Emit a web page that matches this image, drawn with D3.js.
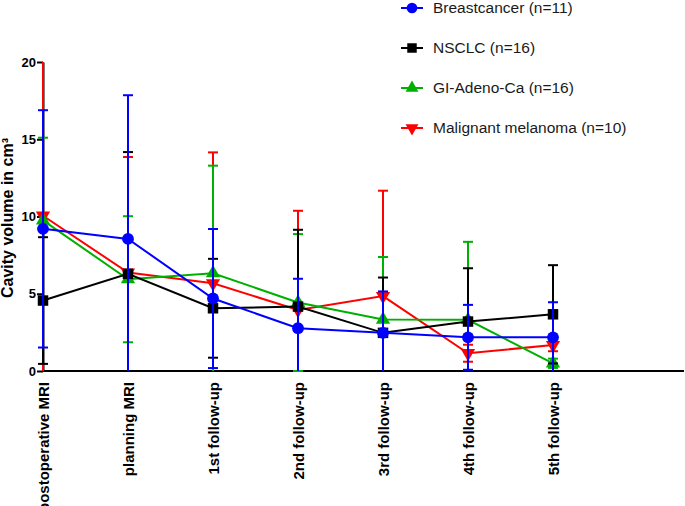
<!DOCTYPE html>
<html><head><meta charset="utf-8">
<script src="https://cdn.jsdelivr.net/npm/d3@7"></script>
<style>
html,body{margin:0;padding:0;background:#fff;}
svg{display:block;font-family:Arial,"Liberation Sans",sans-serif;}
</style></head>
<body>
<svg id="chart" width="685" height="506"></svg>
<script>
const categories = ["postoperative MRI","planning MRI","1st follow-up","2nd follow-up","3rd follow-up","4th follow-up","5th follow-up"];
const yTicks = [0,5,10,15,20];
const seriesNames = ["Breastcancer (n=11)","NSCLC (n=16)","GI-Adeno-Ca (n=16)","Malignant melanoma (n=10)"];
const breastMean = [9.2, 8.55, 4.69, 2.77, 2.47, 2.18, 2.18];
const breastSD   = [7.68, 9.3, 4.5, 3.2, 2.68, 2.1, 2.27];
const nsclcMean  = [4.56, 6.29, 4.06, 4.17, 2.47, 3.2, 3.67];
const nsclcSD    = [4.1, 7.88, 3.2, 4.97, 3.58, 3.45, 3.18];
const giMean     = [9.75, 5.94, 6.33, 4.43, 3.33, 3.31, 0.5];
const giSD       = [5.35, 4.08, 6.96, 4.43, 4.05, 5.05, 0.3];
const melMean    = [10.05, 6.37, 5.68, 3.95, 4.85, 1.15, 1.68];
const melSD      = [10.5, 7.48, 8.47, 6.42, 6.82, 0.55, 0.4];

const series = [
  {name: seriesNames[0], mean: breastMean, sd: breastSD, color: "#0000ff", sym: "circle"},
  {name: seriesNames[1], mean: nsclcMean, sd: nsclcSD, color: "#000000", sym: "square"},
  {name: seriesNames[2], mean: giMean, sd: giSD, color: "#00b000", sym: "triUp"},
  {name: seriesNames[3], mean: melMean, sd: melSD, color: "#ff0000", sym: "triDown"}
];

const svg = d3.select("#chart");
const x = d3.scalePoint().domain(categories).range([43, 553]).padding(0);
const y = d3.scaleLinear().domain([0, 20]).range([371, 62]);

// axes
const yAxis = d3.axisLeft(y).tickValues(yTicks).tickSize(6).tickSizeOuter(0);
const gy = svg.append("g").attr("transform","translate(43,0)").call(yAxis);
gy.select(".domain").attr("stroke","#000").attr("stroke-width",2);
gy.selectAll(".tick line").attr("stroke","#000").attr("stroke-width",2);
gy.selectAll(".tick text").attr("font-size","13px").attr("font-weight","bold").attr("fill","#000").attr("x",-7)
  .attr("font-family","Arial, 'Liberation Sans', sans-serif");

const xAxis = d3.axisBottom(x).tickSize(0).tickSizeOuter(0);
const gx = svg.append("g").attr("transform","translate(0,371)").call(xAxis);
gx.select(".domain").attr("d","M43,0H684").attr("stroke","#000").attr("stroke-width",2);
gx.selectAll(".tick text")
  .attr("font-size","15px").attr("font-weight","bold").attr("fill","#000")
  .attr("font-family","Arial, 'Liberation Sans', sans-serif")
  .attr("text-anchor","end").attr("y",0).attr("dy","0.35em")
  .attr("transform","translate(0,11) rotate(-90)");

// y title
svg.append("text").attr("transform","translate(13,218) rotate(-90)")
  .attr("text-anchor","middle").attr("font-size","16px").attr("font-weight","bold").attr("fill","#000")
  .text("Cavity volume in cm³");

function symbolPath(sym, size){
  if(sym==="circle") return d3.symbol(d3.symbolCircle, size*1.0)();
  if(sym==="square") return d3.symbol(d3.symbolSquare, size)();
  return d3.symbol(d3.symbolTriangle, size*0.8)();
}

const drawOrder = [3,2,1,0];
const line = d3.line().x((d,i)=>x(categories[i])).y(d=>y(d));

drawOrder.forEach(si=>{
  const s = series[si];
  const g = svg.append("g");
  s.mean.forEach((m,i)=>{
    const cx = x(categories[i]);
    const hi = m + s.sd[i], lo = m - s.sd[i];
    const hiC = Math.min(hi, 20), loC = Math.max(lo, 0);
    g.append("line").attr("x1",cx).attr("x2",cx).attr("y1",y(loC)).attr("y2",y(hiC))
      .attr("stroke",s.color).attr("stroke-width",2);
    if(hi <= 20) g.append("line").attr("x1",cx-5).attr("x2",cx+5).attr("y1",y(hi)).attr("y2",y(hi))
      .attr("stroke",s.color).attr("stroke-width",2);
    if(lo >= 0) g.append("line").attr("x1",cx-5).attr("x2",cx+5).attr("y1",y(lo)).attr("y2",y(lo))
      .attr("stroke",s.color).attr("stroke-width",2);
  });
  g.append("path").attr("d", line(s.mean)).attr("fill","none").attr("stroke",s.color).attr("stroke-width",2);
  s.mean.forEach((m,i)=>{
    const rot = s.sym==="triDown" ? " rotate(180)" : "";
    g.append("path").attr("d", symbolPath(s.sym, 110))
      .attr("transform",`translate(${x(categories[i])},${y(m)})${rot}`)
      .attr("fill",s.color);
  });
});

// legend
const leg = svg.append("g");
series.forEach((s,i)=>{
  const cy = 8 + i*40;
  leg.append("line").attr("x1",401).attr("x2",423).attr("y1",cy).attr("y2",cy).attr("stroke",s.color).attr("stroke-width",2);
  const rot = s.sym==="triDown" ? " rotate(180)" : "";
  leg.append("path").attr("d", symbolPath(s.sym, 90)).attr("transform",`translate(412,${cy})${rot}`).attr("fill",s.color);
  leg.append("text").attr("x",433).attr("y",cy).attr("dy","0.35em").attr("font-size","15.5px").attr("fill","#1a1a1a").text(s.name);
});
</script>
</body></html>
